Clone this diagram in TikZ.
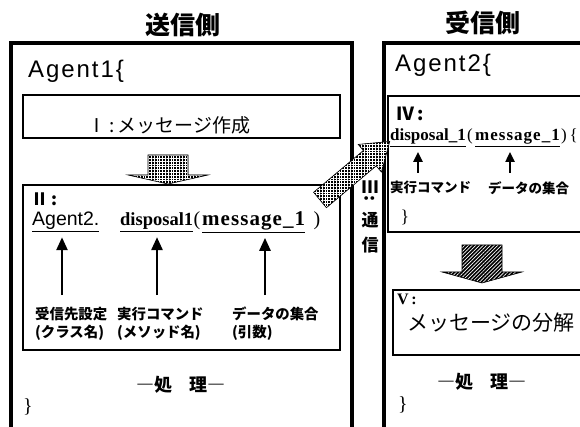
\documentclass[tikz,border=0pt]{standalone}
\usepackage{fontspec}
\setmainfont{Noto Sans CJK JP}
\newfontfamily\lsans{Liberation Sans}
\newfontfamily\lserif{Liberation Serif}
\usetikzlibrary{arrows.meta,patterns.meta,calc}
\tikzset{
  outerline/.style={line width=3.5pt},
  innerbox/.style={line width=1.4pt},
  hatcharrow/.style={draw=black, line width=0.6pt, preaction={fill=black},
    pattern={Hatch[distance=2.8pt,line width=0.35pt]}, pattern color=white},
  stripearrow/.style={draw=black, line width=0.6pt, preaction={fill=black},
    pattern={Lines[angle=45,distance=2.6pt,line width=0.7pt]}, pattern color=white},
  uparr/.style={line width=2.6pt, -{Triangle[width=11pt,length=13pt]}},
  suparr/.style={line width=2.2pt, -{Triangle[width=9pt,length=10pt]}},
  every node/.style={inner sep=0pt},
  title/.style={font=\bfseries\fontsize{25}{25}\selectfont},
  agent/.style={font=\lsans\fontsize{24}{24}\selectfont\addfontfeature{LetterSpace=8}},
  lbl/.style={font=\bfseries\fontsize{14.4}{18}\selectfont, align=left},
  rlbl/.style={font=\bfseries\fontsize{13.5}{14}\selectfont},
  proc/.style={font=\bfseries\fontsize{18}{18}\selectfont},
  brace/.style={font=\lserif\fontsize{20}{20}\selectfont},
  roman/.style={font=\bfseries\fontsize{17}{17}\selectfont},
}
\begin{document}
\begin{tikzpicture}[x=1pt,y=-1pt]
\useasboundingbox (0,0) rectangle (580,427);

% titles
\node[title] (t1) at (183,25) {送信側};
\node[title] (t2) at (483,23) {受信側};

% outer boxes
\draw[outerline] (11,430) -- (11,43) -- (352,43) -- (352,430);
\draw[outerline] (384,430) -- (384,43) -- (584,43);

% ---------------- sender ----------------
\node[agent, anchor=base west] (ag1) at (28,78) {Agent1\{};

\draw[innerbox] (23,95) rectangle (340,138);
\node[font=\fontsize{19}{19}\selectfont] (m1) at (169,125) {Ⅰ\,:\,メッセージ作成};

\draw[hatcharrow] (148,155) -- (188,155) -- (188,175) -- (208,175) -- (168,184) -- (128,175) -- (148,175) -- cycle;

\draw[innerbox] (23,185) rectangle (340,350);
\node[roman, anchor=west] (n2) at (31,199) {Ⅱ\,:};

\node[anchor=base west, font=\lsans\fontsize{19.5}{20}\selectfont] (wA) at (32,226) {\underline{Agent2.}};
\node[anchor=base west, font=\lserif\bfseries\fontsize{18.5}{20}\selectfont] (wD) at (120,226) {\underline{disposal1}};
\node[anchor=base, font=\lserif\fontsize{20}{20}\selectfont] (pL) at (197,226) {(};
\node[anchor=base west, font=\lserif\bfseries\fontsize{21}{21}\selectfont\addfontfeature{LetterSpace=5}] (wM) at (202,226) {\underline{message\_1}};
\node[anchor=base, font=\lserif\fontsize{20}{20}\selectfont] (pR) at (317,226) {)};

\node[lbl, anchor=north west] (lA) at (35,307) {受信先設定\\(クラス名)};
\node[lbl, anchor=north west] (lD) at (117,307) {実行コマンド\\(メソッド名)};
\node[lbl, anchor=north west] (lM) at (232,307) {データの集合\\(引数)};

\coordinate (aA) at ($(lA.north west)+(27,0)$);
\coordinate (aD) at ($(lD.north west)+(40,0)$);
\coordinate (aM) at ($(lM.north west)+(33,0)$);
\draw[uparr] ($(aA)+(0,-12)$) -- ($(aA |- wA.south)+(0,5)$);
\draw[uparr] ($(aD)+(0,-12)$) -- ($(aD |- wD.south)+(0,5)$);
\draw[uparr] ($(aM)+(0,-12)$) -- ($(aM |- wM.south)+(0,5)$);

\node[proc] (p1) at (181,385) {―処\hspace{0.9em}理―};
\node[brace] (b1) at (28,407) {\}};

% ---------------- communication ----------------
\node[roman] (c0) at (370,187) {Ⅲ};
\node[roman, rotate=90] (c1) at (370,199) {:};
\node[roman] (c2) at (370,220) {通};
\node[roman] (c3) at (370,245) {信};

% ---------------- receiver ----------------
\node[agent, anchor=base west] (ag2) at (395,72) {Agent2\{};

\draw[innerbox, line width=1.8pt] (388,96) rectangle (584,232);
\node[roman, anchor=west, font=\bfseries\fontsize{18}{18}\selectfont] (n4) at (396,114) {Ⅳ\,:};
\node[anchor=base west, font=\lserif\bfseries\fontsize{17}{18}\selectfont] (dR) at (390,141) {\underline{disposal\_1}};
\node[anchor=base, font=\lserif\fontsize{17}{18}\selectfont] (qL) at (470,141) {(};
\node[anchor=base west, font=\lserif\bfseries\fontsize{17}{18}\selectfont\addfontfeature{LetterSpace=6}] (mR) at (475,141) {\underline{message\_1}};
\node[anchor=base west, font=\lserif\fontsize{17}{18}\selectfont] (qR) at (561,141) {)\,\{};

\node[rlbl, anchor=north west] (cR) at (390,181) {実行コマンド};
\node[rlbl, anchor=north west] (dtR) at (488,181) {データの集合};
\coordinate (sA) at ($(cR.north west)+(28,0)$);
\coordinate (sB) at ($(dtR.north west)+(22,0)$);
\draw[suparr] ($(sA)+(0,-8)$) -- ($(sA |- dR.south)+(0,5)$);
\draw[suparr] ($(sB)+(0,-8)$) -- ($(sB |- mR.south)+(0,5)$);

\node[font=\lserif\fontsize{18}{18}\selectfont] (b4) at (405,217) {\}};

\draw[stripearrow] (462,245) -- (502,245) -- (502,272) -- (522,272) -- (482,283) -- (442,272) -- (462,272) -- cycle;

\draw[innerbox] (393,290) rectangle (584,355);
\node[roman, anchor=west, font=\lserif\bfseries\fontsize{16}{16}\selectfont] (n5) at (397,299) {V\,:};
\node[anchor=west, font=\fontsize{21}{21}\selectfont] (m5) at (407,323) {メッセージの分解};

\node[proc] (p2) at (482,382) {―処\hspace{0.9em}理―};
\node[brace] (b2) at (403,405) {\}};

% ---------------- diagonal transfer arrow ----------------
\draw[hatcharrow] (326.4,207.7) -- (376.2,165.9) -- (381.4,172.0) -- (389.7,141.5)
  -- (358.2,144.4) -- (363.4,150.5) -- (313.6,192.3) -- cycle;
\end{tikzpicture}
\end{document}
